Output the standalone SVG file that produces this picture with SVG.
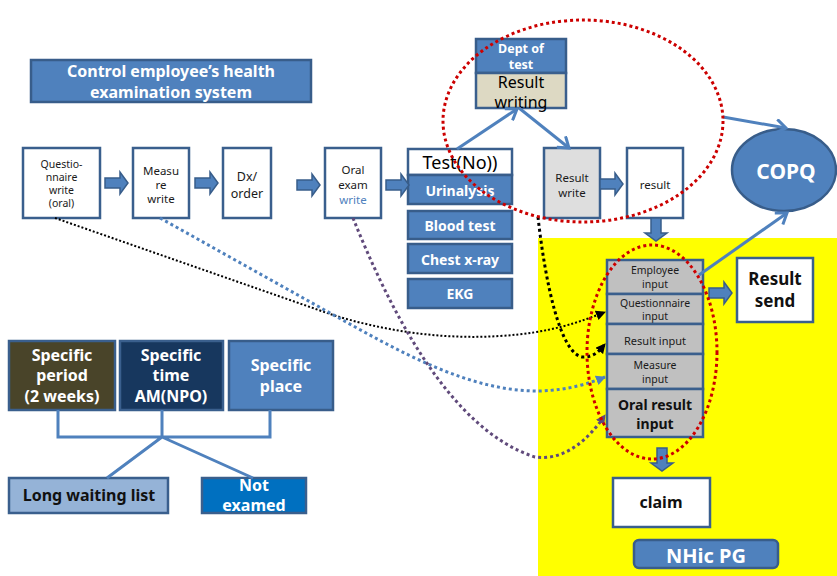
<svg xmlns="http://www.w3.org/2000/svg" xmlns:xlink="http://www.w3.org/1999/xlink" width="837" height="576" viewBox="0 0 837 576">
  <style>
    text { font-family: "Noto Sans", "Open Sans", sans-serif; text-anchor: middle; dominant-baseline: central; }
    .box { fill: #ffffff; stroke: #3a5f8d; stroke-width: 2.5; }
    .gray { fill: #dedede; stroke: #3a5f8d; stroke-width: 2.5; }
    .stack { fill: #c0c0c0; stroke: #3a5f8d; stroke-width: 2.5; }
    .blue { fill: #4f81bd; stroke: #385d8a; stroke-width: 2.5; }
    .sm { font-size: 10.5px; fill: #1a1a1a; }
    .md { font-size: 11.5px; fill: #1a1a1a; }
    .wb { font-size: 14px; font-weight: bold; fill: #ffffff; }
    .wb16 { font-size: 16px; font-weight: bold; fill: #ffffff; }
    .kb { font-weight: bold; fill: #111111; }
    .blk { fill: #4f81bd; stroke: #385d8a; stroke-width: 1.5; }
    .thin { fill: none; stroke: #4f81bd; stroke-width: 3; }
    .red { fill: none; stroke: #cc0000; stroke-width: 3; stroke-dasharray: 3 3; }
    .bracket { fill: none; stroke: #4f81bd; stroke-width: 3; }
  </style>
  <defs>
    <!-- fat block arrow pointing right, origin at the tail centre -->
    <path id="blockR" d="M0,-5 H15 V-11 L23,0 L15,11 V5 H0 Z"/>
    <marker id="chev" markerUnits="userSpaceOnUse" markerWidth="16" markerHeight="16" refX="12" refY="8" orient="auto">
      <path d="M2,1 L12,8 L2,15" fill="none" stroke="#4f81bd" stroke-width="3"/>
    </marker>
    <marker id="tipK" markerUnits="userSpaceOnUse" markerWidth="10" markerHeight="10" refX="9" refY="5" orient="auto">
      <path d="M0,0 L10,5 L0,10 Z" fill="#000000"/>
    </marker>
    <marker id="tipB" markerUnits="userSpaceOnUse" markerWidth="10" markerHeight="10" refX="9" refY="5" orient="auto">
      <path d="M0,0 L10,5 L0,10 Z" fill="#4f81bd"/>
    </marker>
    <marker id="tipP" markerUnits="userSpaceOnUse" markerWidth="10" markerHeight="10" refX="9" refY="5" orient="auto">
      <path d="M0,0 L10,5 L0,10 Z" fill="#604a7b"/>
    </marker>
  </defs>

  <rect width="837" height="576" fill="#ffffff"/>
  <!-- NHic PG zone -->
  <rect x="538" y="238" width="299" height="338" fill="#ffff00"/>

  <g id="title">
    <rect class="blue" x="31" y="60" width="280" height="42"/>
    <text class="wb16" x="171" y="71">Control employee’s health</text>
    <text class="wb16" x="171" y="92">examination system</text>
  </g>

  <g id="questionnaire-write">
    <rect class="box" x="23" y="148" width="77" height="70"/>
    <text class="sm" x="61.5" y="164">Questio-</text>
    <text class="sm" x="61.5" y="177">nnaire</text>
    <text class="sm" x="61.5" y="190">write</text>
    <text class="sm" x="61.5" y="203">(oral)</text>
  </g>
  <g id="measure-write">
    <rect class="box" x="133" y="148" width="56" height="70"/>
    <text class="md" x="161" y="170">Measu</text>
    <text class="md" x="161" y="184">re</text>
    <text class="md" x="161" y="198">write</text>
  </g>
  <g id="dx-order">
    <rect class="box" x="223" y="148" width="48" height="70"/>
    <text class="md" x="247" y="176" style="font-size:12.5px">Dx/</text>
    <text class="md" x="247" y="193" style="font-size:12.5px">order</text>
  </g>
  <g id="oral-exam-write">
    <rect class="box" x="325" y="148" width="56" height="70"/>
    <text class="md" x="353" y="169">Oral</text>
    <text class="md" x="353" y="184">exam</text>
    <text class="md" x="353" y="199" style="fill:#4f81bd">write</text>
  </g>

  <g id="test-no">
    <rect class="box" x="408" y="149" width="104" height="26"/>
    <text x="460" y="162" style="font-size:18px;fill:#000000">Test(No))</text>
  </g>
  <g id="urinalysis">
    <rect class="blue" x="408" y="175" width="104" height="29"/>
    <text class="wb" x="460" y="190">Urinalysis</text>
  </g>
  <g id="blood-test">
    <rect class="blue" x="408" y="211" width="104" height="28"/>
    <text class="wb" x="460" y="225">Blood test</text>
  </g>
  <g id="chest-xray">
    <rect class="blue" x="408" y="244" width="104" height="29"/>
    <text class="wb" x="460" y="259">Chest x-ray</text>
  </g>
  <g id="ekg">
    <rect class="blue" x="408" y="279" width="104" height="29"/>
    <text class="wb" x="460" y="293">EKG</text>
  </g>

  <g id="dept-of-test">
    <rect class="blue" x="476" y="39" width="90" height="34"/>
    <text x="521" y="48" style="font-size:12.5px;font-weight:bold;fill:#ffffff">Dept of</text>
    <text x="521" y="64" style="font-size:12.5px;font-weight:bold;fill:#ffffff">test</text>
  </g>
  <g id="result-writing">
    <rect x="476" y="73" width="90" height="35" fill="#ddd9c3" stroke="#3a5f8d" stroke-width="2.5"/>
    <text x="521" y="82" style="font-size:16px;fill:#000000">Result</text>
    <text x="521" y="102" style="font-size:16px;fill:#000000">writing</text>
  </g>

  <g id="result-write">
    <rect class="gray" x="544" y="148" width="56" height="70"/>
    <text class="md" x="572" y="177">Result</text>
    <text class="md" x="572" y="192">write</text>
  </g>
  <g id="result">
    <rect class="box" x="627" y="148" width="56" height="70"/>
    <text class="md" x="655" y="184">result</text>
  </g>

  <g id="copq">
    <ellipse cx="784" cy="170" rx="52" ry="41" fill="#4f81bd" stroke="#385d8a" stroke-width="2.5"/>
    <text x="786" y="171" style="font-size:21px;font-weight:bold;fill:#ffffff">COPQ</text>
  </g>

  <g id="input-stack">
    <rect class="stack" x="607" y="260" width="96" height="34"/>
    <text class="sm" x="655" y="270">Employee</text>
    <text class="sm" x="655" y="284">input</text>
    <rect class="stack" x="607" y="294" width="96" height="30"/>
    <text class="sm" x="655" y="303">Questionnaire</text>
    <text class="sm" x="655" y="316">input</text>
    <rect class="stack" x="607" y="324" width="96" height="30"/>
    <text class="sm" x="655" y="340" style="font-size:11px">Result input</text>
    <rect class="stack" x="607" y="354" width="96" height="35"/>
    <text class="sm" x="655" y="365">Measure</text>
    <text class="sm" x="655" y="379">input</text>
    <rect class="stack" x="607" y="389" width="96" height="48"/>
    <text x="655" y="404" style="font-size:14px;font-weight:bold;fill:#111111">Oral result</text>
    <text x="655" y="423" style="font-size:14px;font-weight:bold;fill:#111111">input</text>
  </g>

  <g id="result-send">
    <rect class="box" x="737" y="258" width="76" height="64"/>
    <text class="kb" x="775" y="278" style="font-size:17px">Result</text>
    <text class="kb" x="775" y="300" style="font-size:17px">send</text>
  </g>

  <g id="claim">
    <rect class="box" x="613" y="478" width="97" height="49"/>
    <text class="kb" x="661" y="502" style="font-size:16px">claim</text>
  </g>

  <g id="nhic-pg">
    <rect class="blue" x="634" y="540" width="144" height="28" rx="5"/>
    <text x="706" y="555" style="font-size:20px;font-weight:bold;fill:#ffffff">NHic PG</text>
  </g>

  <g id="specific-period">
    <rect x="9" y="341" width="106" height="69" fill="#494429" stroke="#3a5f8d" stroke-width="2.5"/>
    <text class="wb16" x="62" y="355">Specific</text>
    <text class="wb16" x="62" y="375">period</text>
    <text class="wb16" x="62" y="396">(2 weeks)</text>
  </g>
  <g id="specific-time">
    <rect x="120" y="341" width="103" height="69" fill="#17375e" stroke="#3a5f8d" stroke-width="2.5"/>
    <text class="wb16" x="171" y="355">Specific</text>
    <text class="wb16" x="171" y="375">time</text>
    <text class="wb16" x="171" y="396">AM(NPO)</text>
  </g>
  <g id="specific-place">
    <rect class="blue" x="229" y="341" width="104" height="69"/>
    <text class="wb16" x="281" y="365">Specific</text>
    <text class="wb16" x="281" y="386">place</text>
  </g>
  <g id="long-waiting-list">
    <rect x="9" y="478" width="159" height="35" fill="#95b3d7" stroke="#3a5f8d" stroke-width="2.5"/>
    <text class="kb" x="89" y="495" style="font-size:16px">Long waiting list</text>
  </g>
  <g id="not-examed">
    <rect x="202" y="478" width="104" height="35" fill="#0070c0" stroke="#3a5f8d" stroke-width="2.5"/>
    <text class="wb16" x="254" y="485">Not</text>
    <text class="wb16" x="254" y="505">examed</text>
  </g>

  <g id="connectors">
    <!-- block arrows along the main flow -->
    <use xlink:href="#blockR" class="blk" transform="translate(105,183)"/>
    <use xlink:href="#blockR" class="blk" transform="translate(195,183)"/>
    <use xlink:href="#blockR" class="blk" transform="translate(297,185)"/>
    <use xlink:href="#blockR" class="blk" transform="translate(386,185)"/>
    <use xlink:href="#blockR" class="blk" transform="translate(600,184)"/>
    <use xlink:href="#blockR" class="blk" transform="translate(656,218) rotate(90)"/>
    <use xlink:href="#blockR" class="blk" transform="translate(709,293)"/>
    <use xlink:href="#blockR" class="blk" transform="translate(662,448) rotate(90)"/>

    <!-- thin arrows -->
    <path class="thin" d="M457,149 L517,109" marker-end="url(#chev)"/>
    <path class="thin" d="M519,108 L569,148" marker-end="url(#chev)"/>
    <path class="thin" d="M723,117 L786,128" marker-end="url(#chev)"/>
    <path class="thin" d="M699,275 L787,213" marker-end="url(#chev)"/>

    <!-- bracket joining the three constraints -->
    <path class="bracket" d="M58,410 V437 H270 V410 M162,410 V437 M162,437 L107,478 M162,437 L253,478"/>

    <!-- dotted links into the input stack -->
    <path d="M55,218 L330,314 C380,330 440,340 500,336 C550,333 580,322 605,312" fill="none" stroke="#000000" stroke-width="2" stroke-dasharray="2 2" marker-end="url(#tipK)"/>
    <path d="M160,218 L330,313 C400,352 470,392 540,391 C570,390 590,383 605,377" fill="none" stroke="#4f81bd" stroke-width="3" stroke-dasharray="3 3" marker-end="url(#tipB)"/>
    <path d="M353,218 C390,310 450,430 535,457 C570,462 595,430 605,415" fill="none" stroke="#604a7b" stroke-width="3" stroke-dasharray="3 3" marker-end="url(#tipP)"/>
    <path d="M538,217 C545,280 560,355 583,357 C595,357 600,350 605,344" fill="none" stroke="#000000" stroke-width="3" stroke-dasharray="3 3" marker-end="url(#tipK)"/>

    <!-- dotted red rings -->
    <ellipse class="red" cx="583" cy="121" rx="140" ry="101"/>
    <ellipse class="red" cx="652" cy="352" rx="65" ry="107"/>
  </g>
</svg>
